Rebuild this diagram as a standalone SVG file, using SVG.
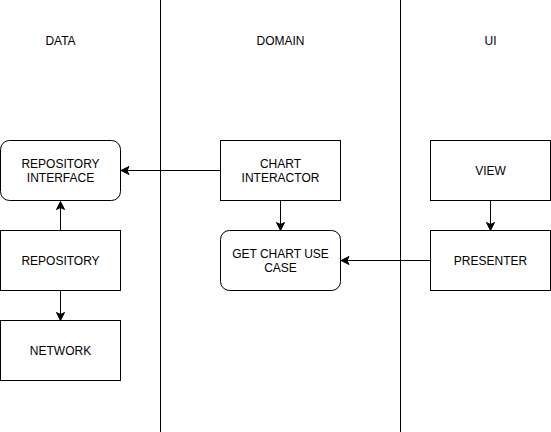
<svg xmlns="http://www.w3.org/2000/svg" width="551" height="432" viewBox="0 0 551 432">
<style>
.box{fill:#fff;stroke:#000;stroke-width:1}
.lbl{font-family:"Liberation Sans",Arial,sans-serif;font-size:12px;fill:#000;text-anchor:middle}
.edge{fill:none;stroke:#000;stroke-width:1}
.div{stroke:#000;stroke-width:1}
</style>
<defs>
<marker id="arr" markerUnits="userSpaceOnUse" markerWidth="10" markerHeight="10" viewBox="0 0 10 10" refX="9" refY="5" orient="auto">
<path d="M9,5 L1,1 L3,5 L1,9 Z" fill="#000" stroke="#000" stroke-width="1"/>
</marker>
</defs>
<rect width="551" height="432" fill="#fff"/>
<g id="dividers">
<line class="div" x1="160.5" y1="0" x2="160.5" y2="432"/>
<line class="div" x1="400.5" y1="0" x2="400.5" y2="432"/>
</g>
<g id="headers">
<text class="lbl" x="60.5" y="45">DATA</text>
<text class="lbl" x="280.5" y="45">DOMAIN</text>
<text class="lbl" x="490.5" y="45">UI</text>
</g>
<g id="connectors">
<path class="edge" d="M60.5,230.5 L60.5,201.5" marker-end="url(#arr)"/>
<path class="edge" d="M60.5,290.5 L60.5,320.5" marker-end="url(#arr)"/>
<path class="edge" d="M220.5,170.5 L121,170.5" marker-end="url(#arr)"/>
<path class="edge" d="M280.5,200.5 L280.5,230.5" marker-end="url(#arr)"/>
<path class="edge" d="M490.5,200.5 L490.5,230.5" marker-end="url(#arr)"/>
<path class="edge" d="M430.5,260.5 L341,260.5" marker-end="url(#arr)"/>
</g>
<g id="repository-interface">
<rect class="box" x="0.5" y="140.5" width="120" height="60" rx="9" ry="9"/>
<text class="lbl" x="60.5" y="167.5">REPOSITORY</text>
<text class="lbl" x="60.5" y="182">INTERFACE</text>
</g>
<g id="repository">
<rect class="box" x="0.5" y="230.5" width="120" height="60"/>
<text class="lbl" x="60.5" y="264.5">REPOSITORY</text>
</g>
<g id="network">
<rect class="box" x="0.5" y="320.5" width="120" height="60"/>
<text class="lbl" x="60.5" y="354.5">NETWORK</text>
</g>
<g id="chart-interactor">
<rect class="box" x="220.5" y="140.5" width="120" height="60"/>
<text class="lbl" x="280.5" y="167.5">CHART</text>
<text class="lbl" x="280.5" y="182">INTERACTOR</text>
</g>
<g id="get-chart-use-case">
<rect class="box" x="220.5" y="230.5" width="120" height="60" rx="9" ry="9"/>
<text class="lbl" x="280.5" y="257.5">GET CHART USE</text>
<text class="lbl" x="280.5" y="272">CASE</text>
</g>
<g id="view">
<rect class="box" x="430.5" y="140.5" width="120" height="60"/>
<text class="lbl" x="490.5" y="174.5">VIEW</text>
</g>
<g id="presenter">
<rect class="box" x="430.5" y="230.5" width="120" height="60"/>
<text class="lbl" x="490.5" y="264.5">PRESENTER</text>
</g>
</svg>
